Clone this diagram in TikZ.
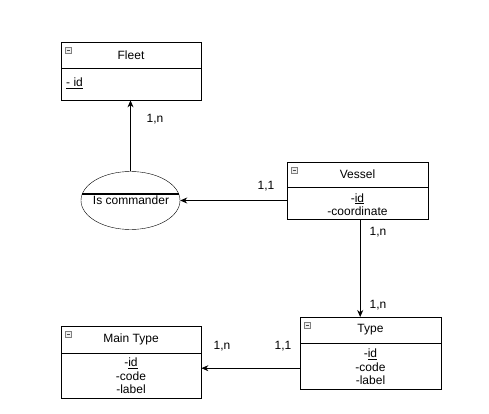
\documentclass[tikz,border=0pt]{standalone}
\usepackage{fontspec}
\setmainfont{Liberation Sans}
\usetikzlibrary{shapes.geometric,arrows.meta,calc}

\tikzset{
  entitybox/.style={draw, anchor=north west, inner sep=0pt, minimum width=140pt},
  relation/.style={draw, ellipse, inner sep=0pt, minimum width=99pt, minimum height=58pt},
  link/.style={-{Stealth[length=7pt,width=6pt]}, line width=0.8pt},
  card/.style={inner sep=0pt, font=\fontsize{12}{14}\selectfont},
  title/.style={inner sep=0pt, font=\fontsize{12}{14}\selectfont},
  attrs/.style={inner sep=0pt, align=center, font=\fontsize{12}{13.5}\selectfont}
}

\begin{document}
\begin{tikzpicture}[x=1pt,y=1pt,yscale=-1,xscale=1]
		\useasboundingbox (0,0) rectangle (489,414);

		% Entity boxes
		\node[entitybox, minimum height=58pt] (fleet) at (61,42) {};
		\node[entitybox, minimum width=141pt, minimum height=57pt] (vessel) at (287,162) {};
		\node[entitybox, minimum width=141pt, minimum height=72pt] (type) at (300,317) {};
		\node[entitybox, minimum height=72pt] (mtype) at (61,326) {};

		% Header dividers
		\draw (61,68) -- (201,68);
		\draw (287,187) -- (428,187);
		\draw (300,343) -- (441,343);
		\draw (61,353) -- (201,353);

		% Small fold icons in the headers
		\foreach \ent in {fleet,vessel,type,mtype}{
			\draw[gray, fill=gray!12] ($(\ent.north west)+(4,5)$) rectangle ($(\ent.north west)+(10,11)$);
			\draw[gray!60!black] ($(\ent.north west)+(5.5,8)$) -- ($(\ent.north west)+(8.5,8)$);
		}

		% Titles
		\node[title] (fleettitle) at (131,55) {Fleet};
		\node[title] (vesseltitle) at (357.5,174.5) {Vessel};
		\node[title] (typetitle) at (370.5,330) {Type};
		\node[title] (mtypetitle) at (131,339.5) {Main Type};

		% Attributes
		\node[inner sep=0pt, anchor=west, font=\fontsize{12}{14}\selectfont] (fleetattr) at (66,83) {\underline{- id}};
		\node[attrs] (vesselattr) at (357.5,204.5) {-\underline{id}\\-coordinate};
		\node[attrs] (typeattr) at (370.5,367) {-\underline{id}\\-code\\-label};
		\node[attrs] (mtypeattr) at (131,376) {-\underline{id}\\-code\\-label};

		% Relationship
		\node[relation] (cmd) at (130.5,200.5) {};
		\draw[line width=1.3pt] ($(cmd.center)+(-48.2,-6.5)$) -- ($(cmd.center)+(48.2,-6.5)$);
		\node[title] (cmdtext) at (131,200.5) {Is commander};

		% Connectors
		\draw[link] (cmd.north) -- (cmd.north |- fleet.south);
		\draw[link] (vessel.west |- cmd.east) -- (cmd.east);
		\coordinate (vesselport) at ($(vessel.south)+(2.5,0)$);
		\draw[link] (vesselport) -- (vesselport |- type.north);
		\coordinate (typeport) at ($(type.west)+(0,15)$);
		\draw[link] (typeport) -- (typeport -| mtype.east);

		% Cardinalities
		\node[card] (c1) at (155,119) {1,n};
		\node[card] (c2) at (266,186) {1,1};
		\node[card] (c3) at (378,232) {1,n};
		\node[card] (c4) at (378,305) {1,n};
		\node[card] (c5) at (222,346) {1,n};
		\node[card] (c6) at (283,346) {1,1};
\end{tikzpicture}
\end{document}
